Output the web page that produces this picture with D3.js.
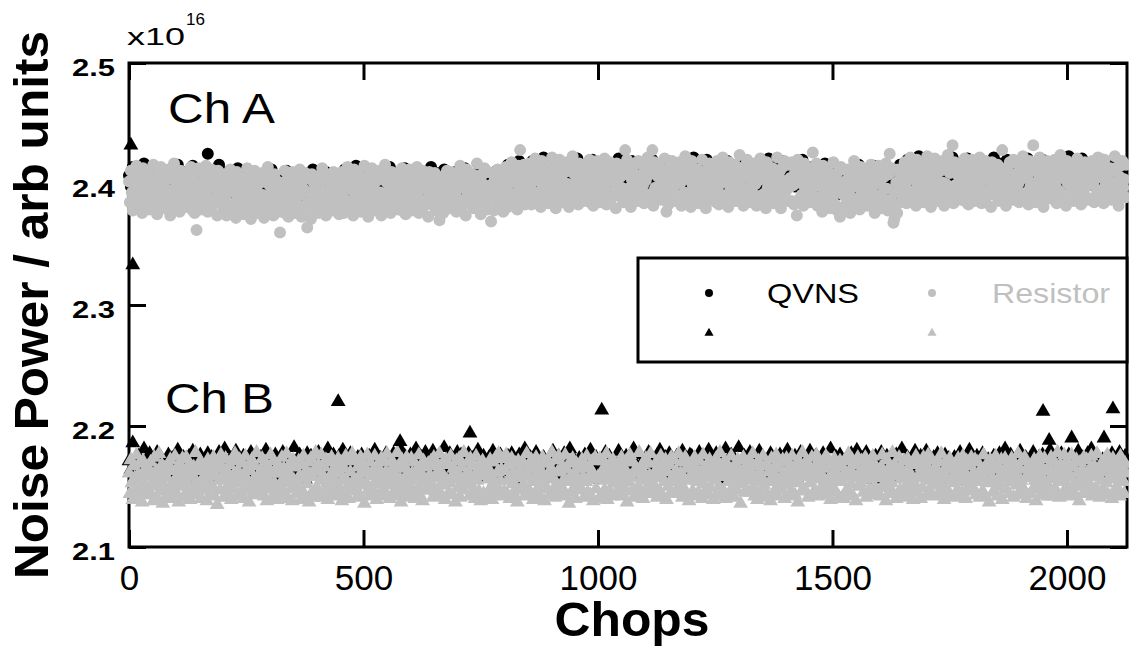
<!DOCTYPE html>
<html>
<head>
<meta charset="utf-8">
<script src="https://cdn.jsdelivr.net/npm/d3@7"></script>
<style>
  body { margin: 0; background: #fff; }
  svg { display: block; font-family: "Liberation Sans", Arial, sans-serif; }
</style>
</head>
<body>
<svg id="chart" width="1129" height="650"></svg>
<script>
// noise power readings, in units of 1e13 (axis shows x10^16, so 2400 -> 2.400)
// resistor series sampled every 2 chops, QVNS series every 4 chops
const resistorStep = 2
const qvnsStep = 4

const chAResistor = [
  2402,2385,2411,2393,2378,2407,2398,2389,2415,2381,2400,2409,2387,2396,2376,2413,2392,2405,2383,2399,
  2390,2408,2379,2403,2397,2386,2416,2394,2382,2406,2375,2401,2410,2384,2414,2391,2398,2380,2409,2388,
  2404,2382,2412,2395,2374,2405,2393,2387,2417,2379,2402,2410,2386,2399,2377,2411,2392,2406,2383,2401,
  2388,2409,2381,2404,2395,2385,2414,2391,2378,2407,2376,2400,2362,2386,2413,2390,2397,2379,2410,2389,
  2403,2381,2415,2394,2377,2406,2399,2386,2412,2382,2401,2408,2388,2396,2374,2411,2393,2404,2384,2400,
  2399,2380,2408,2389,2374,2404,2395,2384,2412,2377,2397,2406,2383,2393,2372,2410,2388,2402,2380,2396,
  2386,2405,2375,2400,2394,2382,2413,2390,2378,2403,2371,2398,2407,2381,2411,2387,2395,2376,2406,2384,
  2401,2378,2409,2391,2372,2402,2390,2383,2414,2376,2399,2407,2382,2396,2374,2408,2389,2403,2379,2397,
  2385,2360,2377,2401,2392,2381,2411,2388,2375,2404,2373,2397,2405,2382,2410,2386,2394,2376,2407,2383,
  2400,2378,2412,2391,2373,2403,2396,2382,2409,2379,2364,2405,2385,2393,2371,2408,2387,2401,2380,2398,
  2389,2406,2376,2399,2393,2383,2413,2387,2380,2404,2374,2394,2403,2384,2408,2390,2397,2378,2410,2385,
  2398,2381,2406,2390,2375,
  2401,2382,2410,2391,2376,2406,2397,2386,2414,2379,2399,2408,2385,2395,2374,2412,2390,2404,2382,2398,
  2388,2407,2377,2402,2396,2384,2415,2392,2380,2405,2373,2400,2409,2383,2413,2389,2397,2378,2408,2386,
  2403,2380,2411,2393,2374,2404,2392,2385,2416,2378,2401,2409,2384,2398,2376,2410,2391,2405,2381,2399,
  2387,2407,2379,2403,2394,2383,2413,2390,2377,2406,2375,2399,2408,2384,2412,2388,2396,2378,2409,2385,
  2402,2379,2414,2393,2376,2405,2398,2385,2411,2381,2400,2407,2387,2395,2373,2410,2392,2403,2383,2399,
  2390,2409,2378,2401,2396,2385,2370,2389,2381,2406,2376,2397,2404,2386,2411,2393,2398,2380,2410,2388,
  2400,2383,2408,2392,2377,2403,2397,2387,2415,2380,2402,2410,2386,2396,2374,2412,2391,2405,2384,2400,
  2389,2408,2380,2403,2397,2386,2417,2394,2382,2407,2375,2401,2408,2384,2413,2391,2398,2379,2410,2387,
  2399,2369,2409,2393,2378,2404,2398,2388,2412,2383,2401,2407,2389,2396,2377,
  2406,2387,2414,2397,2381,2410,2402,2392,2418,2385,2405,2412,2390,2401,2379,2415,2396,2428,2388,2407,
  2399,2416,2383,2404,2394,
  2408,2389,2417,2398,2383,2413,2404,2393,2421,2386,2406,2415,2392,2402,2381,2419,2397,2411,2388,2405,
  2395,2414,2384,2409,2403,2391,2422,2399,2387,2412,2380,2407,2416,2390,2420,2396,2404,2385,2415,2393,
  2410,2387,2418,2400,2381,2411,2399,2392,2423,2385,2408,2416,2391,2405,2383,2417,2398,2412,2388,2406,
  2394,2414,2386,2410,2401,2390,2420,2397,2384,2413,2382,2406,2415,2391,2419,2395,2403,2385,2416,2392,
  2409,2386,2421,2400,2383,2412,2405,2392,2418,2388,2407,2414,2394,2402,2380,2417,2399,2410,2390,2406,
  2397,2415,2385,2408,2428,2392,2420,2396,2387,2411,2381,2404,2413,2393,2417,2398,2405,2386,2419,2394,
  2407,2390,2416,2399,2384,2411,2403,2391,2422,2387,2408,2415,2392,2428,2382,2418,2397,2410,2389,2406,
  2396,2413,2387,2409,2402,2392,2421,2398,2377,2412,2383,2405,2414,2390,2419,2395,2404,2386,2416,2400,
  2410,2388,2418,2401,2382,2413,2404,2393,2423,2386,2409,2416,2391,2403,2381,2419,2399,2411,2389,2407,
  2393,2412,2384,2407,2400,2390,2420,2396,2386,2410,2380,2404,2413,2392,2417,2397,2402,2387,2415,2394,
  2408,2385,2419,2398,2383,2410,2401,2391,2422,2385,2406,2414,2389,2401,2381,2418,2395,2409,2388,2403,
  2397,2416,2386,2411,2404,2391,2424,2399,2389,2413,2382,2407,2415,2393,2420,2396,2405,2385,2417,2395,
  2409,2387,2417,2400,2382,2412,2403,2390,2421,2385,2408,2415,2392,2404,2380,2418,2397,2411,2389,2406,
  2394,2413,2384,2408,2401,2389,2422,2398,2386,2411,2380,2403,2414,2390,2419,2394,2402,2386,2416,2397,
  2405,2386,2418,2399,2383,2409,2402,2374,2420,2387,2407,2414,2391,2400,2382,2417,2396,2410,2390,2404,
  2404,2385,2413,2394,2426,2408,2399,2389,2417,2382,2402,2411,2388,2398,2377,2415,2393,2406,2384,2400,
  2391,2410,2380,2405,2399,2387,2418,2395,2383,2408,2378,2402,2411,2373,2414,2392,2398,2381,2412,2389,
  2403,2383,2412,2396,2376,2407,2397,2388,2419,2381,2404,2413,2386,2400,2379,2414,2393,2408,2384,2402,
  2389,2410,2382,2405,2398,2386,2416,2394,2384,2407,2376,2401,2410,2385,2415,2391,2400,2380,2412,2388,
  2406,2383,2417,2396,2378,2408,2425,2387,2413,2384,2368,2371,2393,2401,2376,2412,2396,2407,2385,2403,
  2409,2390,2418,2399,2384,2414,2405,2394,2422,2387,2407,2416,2393,2403,2382,2420,2398,2412,2389,2406,
  2396,2415,2385,2410,2404,2392,2423,2400,2388,2413,2381,2408,2417,2391,2421,2397,2405,2386,2416,2394,
  2411,2388,2419,2401,2382,2412,2400,2393,2424,2386,2409,2417,2392,2432,2384,2418,2399,2413,2389,2407,
  2395,2415,2387,2411,2402,2391,2421,2398,2385,2414,2383,2407,2416,2392,2420,2396,2404,2386,2417,2393,
  2410,2387,2422,2401,2384,2413,2406,2393,2419,2389,2408,2415,2395,2403,2381,2418,2400,2411,2391,2407,
  2398,2416,2386,2409,2403,2393,2428,2397,2388,2412,2382,2405,2414,2394,2418,2399,2406,2387,2420,2395,
  2408,2391,2417,2400,2385,2412,2404,2392,2423,2388,2409,2416,2393,2405,2383,2419,2398,2412,2390,2432,
  2397,2414,2385,2410,2402,2391,2422,2399,2387,2413,2381,2406,2415,2393,2419,2396,2404,2388,2416,2401,
  2410,2389,2420,2398,2384,2413,2405,2394,2424,2387,2408,2417,2391,2404,2382,2419,2400,2411,2392,2406,
  2395,2415,2386,2411,2403,2390,2421,2397,2389,2412,2383,2407,2414,2393,2418,2398,2403,2387,2417,2400,
  2409,2388,2419,2401,2385,2411,2406,2395,2422,2389,2407,2416,2392,2405,2384,2420,2399,2410,2391,2408,
  2396,2413,2387,2412,2401,2392,2423,2398,2390,2414,2382,2406,2415,2394,2419,2397,2404,2389,2416
]

const chAQvns = [
  2407,2398,2414,2401,2393,2410,2405,2399,2417,2395,2408,2412,2400,2404,2391,2413,2402,2409,2396,2406,
  2401,2411,2394,2408,2404,2397,2416,2403,2392,2410,2390,2406,2409,2398,2415,2402,2405,2393,2412,2400,
  2403,2395,2425,2401,2391,2409,2404,2398,2416,2396,
  2403,2394,2410,2397,2389,2406,2401,2395,2413,2391,2404,2408,2396,2400,2387,2409,2398,2405,2392,2402,
  2397,2407,2390,2404,2400,2393,2412,2399,2388,2406,2386,2402,2405,2394,2411,2398,2401,2389,2408,2396,
  2399,2391,2409,2397,2387,2405,2400,2394,2412,2392,2403,2407,2395,2401,2388,2410,2398,2404,2393,2402,
  2396,2408,2391,
  2405,2396,2412,2399,2391,2408,2403,2397,2415,2393,2406,2410,2398,2402,2389,2411,2400,2407,2394,2404,
  2399,2409,2392,2406,2402,2395,2414,2401,2390,2408,2388,2404,2407,2396,2413,2400,2403,2391,2410,2398,
  2401,2393,2411,2399,2389,2407,2402,2396,2414,2394,2405,2409,2397,2403,2390,2412,2400,2406,2395,2404,
  2398,2410,2393,2405,2401,2394,2413,2399,2391,2407,2387,2403,2408,2395,2412,2399,2402,2390,2409,2397,
  2404,2392,2410,2400,2388,2406,2401,
  2411,2402,2416,2405,2397,2413,2409,2403,2419,2400,2412,2415,2406,
  2412,2403,2419,2406,2398,2415,2410,2404,2422,2400,2413,2417,2405,2409,2396,2418,2407,2414,2401,2411,
  2406,2416,2399,2413,2409,2402,2421,2408,2397,2415,2395,2411,2414,2403,2420,2407,2410,2398,2417,2405,
  2408,2400,2418,2406,2396,2414,2409,2403,2421,2401,2412,2416,2404,2410,2397,2419,2407,2413,2402,2411,
  2405,2417,2398,2412,2408,2401,2420,2406,2399,2414,2394,2410,2415,2402,2419,2406,2409,2397,2416,2404,
  2411,2399,2417,2407,2395,2413,2408,2402,2422,2398,2412,2418,2403,2409,2396,2420,2405,2414,2400,2410,
  2407,2415,2397,2411,2406,2400,2419,2405,2398,2413,2393,2409,2416,2401,2418,2405,2408,2396,2415,2403,
  2410,2398,2416,2406,2394,2412,2407,2401,2421,2397,2411,2417,2402,2408,2395,2419,2406,2413,2399,2409,
  2404,2416,2398,2412,2407,2401,2420,2405,2400,2414,
  2407,2398,2414,2401,2393,2410,2405,2399,2417,2395,2408,2412,2400,2404,2391,2413,2402,2409,2396,2406,
  2400,2411,2394,2408,2403,2397,2416,2402,2392,2410,2389,2406,2409,2397,2415,2401,2404,2393,2412,2399,
  2405,2395,2413,2402,2390,2409,2403,2398,2416,2396,
  2413,2404,2420,2407,2399,2416,2411,2405,2423,2401,2414,2418,2406,2410,2397,2419,2408,2415,2402,2412,
  2407,2417,2400,2414,2410,2403,2422,2409,2398,2416,2396,2412,2415,2404,2421,2408,2411,2399,2418,2406,
  2409,2401,2419,2407,2397,2415,2410,2404,2422,2402,2413,2417,2405,2411,2398,2420,2408,2414,2403,2412,
  2406,2418,2399,2413,2409,2402,2421,2407,2400,2415,2395,2411,2416,2403,2420,2407,2410,2398,2417,2405,
  2412,2400,2418,2408,2396,2414,2409,2403,2423,2399,2413,2419,2404,2410,2397,2421,2406,2415,2401,2411,
  2408,2416,2398,2412,2407,2401,2420,2406,2399,2414,2394,2410,2417,2402,2419,2406,2409,2397,2416
]

const chBResistor = [
  2161,2144,2172,2153,2139,2167,2157,2148,2176,2142,2160,2169,2149,2156,2137,2171,2152,2164,2145,2159,
  2166,2147,2143,2170,2154,2159,2138,2174,2150,2163,2141,2156,2177,2146,2153,2168,2136,2160,2165,2149,
  2142,2157,2167,2148,2172,2140,2163,2153,2146,2175,2156,2144,2165,2137,2169,2159,2150,2173,2141,2162,
  2155,2174,2145,2152,2168,2139,2160,2158,2143,2166,2149,2178,2154,2144,2163,2148,2171,2140,2156,2167,
  2147,2164,2158,2138,2172,2153,2143,2167,2160,2150,2174,2142,2159,2165,2135,2170,2155,2147,2176,2157,
  2165,2141,2156,2173,2149,2162,2144,2168,2152,2139,2171,2159,2148,2177,2155,2142,2163,2153,2172,2145,
  2158,2169,2140,2160,2175,2147,2155,2166,2137,2163,2151,2172,2144,2156,2167,2149,2178,2143,2159,2152,
  2145,2163,2173,2151,2142,2170,2158,2138,2166,2155,2148,2176,2161,2141,2171,2153,2147,2164,2139,2168,
  2161,2149,2143,2174,2156,2165,2145,2153,2177,2140,2162,2158,2169,2148,2138,2172,2155,2166,2151,2144,
  2154,2171,2159,2139,2168,2146,2175,2157,2142,2163,2152,2170,2137,2160,2173,2145,2158,2141,2164,2178,
  2149,2162,2168,2144,2155,2176,2141,2159,2166,2147,2172,2153,2139,2170,2158,2148,2174,2143,2163,2156,
  2167,2142,2152,2173,2147,2161,2170,2138,2156,2165,2144,2175,2155,2150,2140,2171,2162,2146,2177,2153,
  2156,2172,2148,2141,2166,2158,2143,2174,2151,2161,2168,2136,2163,2153,2176,2147,2142,2170,2159,2149,
  2144,2164,2175,2155,2139,2167,2152,2160,2145,2173,2158,2148,2170,2142,2162,2177,2151,2157,2140,2171,
  2163,2153,2142,2168,2159,2149,2178,2144,2165,2156,2137,2172,2152,2166,2146,2158,2174,2141,2161,2150,
  2155,2173,2161,2145,2170,2140,2158,2164,2149,2176,2143,2162,2155,2138,2171,2153,2166,2147,2156,2169,
  2147,2159,2171,2152,2141,2174,2157,2146,2167,2162,2144,2177,2151,2160,2142,2170,2158,2139,2172,2155,
  2168,2145,2153,2175,2158,2143,2165,2156,2137,2171,2161,2149,2173,2141,2157,2166,2147,2178,2152,2159,
  2152,2170,2162,2142,2173,2151,2145,2167,2158,2140,2175,2155,2163,2146,2169,2138,2159,2171,2144,2164,
  2159,2141,2166,2156,2147,2172,2161,2139,2170,2154,2144,2174,2151,2162,2177,2146,2155,2164,2142,2173,
  2146,2163,2176,2144,2155,2168,2140,2159,2173,2152,2161,2143,2169,2149,2137,2171,2157,2165,2147,2158,
  2170,2152,2142,2162,2177,2146,2158,2166,2145,2172,2154,2139,2164,2157,2174,2144,2168,2150,2161,2141,
  2154,2174,2159,2138,2169,2157,2148,2171,2161,2143,2165,2178,2147,2156,2141,2172,2152,2162,2175,2146,
  2162,2144,2167,2155,2146,2176,2142,2164,2154,2136,2170,2158,2145,2173,2160,2150,2140,2169,2157,2166,
  2151,2168,2147,2172,2158,2141,2165,2154,2175,2145,2157,2166,2143,2161,2171,2138,2159,2174,2148,2156,
  2158,2140,2173,2161,2143,2163,2171,2147,2155,2177,2139,2167,2157,2146,2165,2142,2172,2153,2162,2144,
  2166,2157,2145,2169,2152,2174,2142,2159,2165,2148,2171,2137,2160,2154,2176,2158,2146,2170,2141,2163,
  2143,2165,2161,2150,2178,2145,2157,2168,2140,2162,2155,2173,2149,2144,2169,2159,2177,2147,2158,2152,
  2161,2148,2170,2141,2158,2166,2146,2175,2157,2142,2164,2154,2172,2139,2162,2150,2168,2144,2174,2157,
  2154,2172,2144,2163,2147,2157,2177,2150,2161,2170,2141,2158,2148,2174,2143,2166,2155,2138,2165,2159,
  2168,2146,2158,2174,2142,2165,2154,2145,2171,2157,2162,2140,2176,2152,2159,2147,2167,2161,2143,2172,
  2149,2166,2157,2139,2170,2155,2173,2144,2163,2150,2178,2159,2142,2165,2146,2171,2140,2158,2168,2154,
  2160,2143,2175,2162,2150,2141,2168,2158,2147,2172,2155,2164,2136,2161,2152,2174,2145,2166,2157,2146,
  2165,2155,2145,2170,2161,2177,2149,2142,2167,2158,2139,2171,2154,2162,2144,2157,2175,2151,2141,2168,
  2144,2167,2162,2154,2138,2173,2157,2165,2146,2159,2176,2142,2166,2149,2170,2155,2147,2172,2161,2140,
  2157,2173,2151,2142,2166,2160,2145,2175,2154,2163,2143,2168,2158,2137,2171,2153,2164,2146,2178,2158,
  2163,2147,2171,2158,2141,2167,2153,2161,2174,2144,2156,2166,2146,2176,2157,2142,2162,2170,2149,2159,
  2146,2165,2155,2175,2150,2143,2172,2157,2139,2168,2162,2148,2173,2154,2145,2166,2158,2141,2171,2156,
  2167,2154,2140,2161,2171,2147,2158,2177,2145,2164,2152,2172,2142,2159,2168,2138,2157,2174,2150,2162,
  2153,2171,2163,2145,2157,2174,2141,2165,2156,2147,2170,2158,2144,2175,2161,2150,2167,2143,2163,2157,
  2158,2142,2166,2176,2149,2161,2154,2138,2172,2157,2165,2146,2162,2153,2178,2144,2168,2159,2140,2164,
  2162,2174,2147,2156,2164,2144,2171,2159,2150,2141,2173,2163,2154,2168,2146,2158,2139,2170,2152,2175,
  2145,2157,2168,2161,2140,2166,2149,2174,2158,2167,2143,2155,2176,2147,2163,2156,2172,2142,2161,2151,
  2166,2151,2143,2171,2159,2154,2177,2146,2162,2139,2170,2157,2148,2167,2144,2173,2153,2164,2158,2141,
  2155,2168,2161,2147,2173,2142,2158,2166,2145,2175,2154,2162,2140,2171,2157,2150,2167,2146,2174,2159,
  2149,2162,2172,2143,2154,2170,2161,2141,2164,2157,2146,2176,2158,2142,2168,2153,2163,2137,2172,2156,
  2170,2145,2155,2164,2175,2150,2142,2167,2158,2152,2172,2139,2162,2157,2173,2148,2159,2168,2144,2166,
  2154,2173,2163,2141,2161,2168,2151,2157,2177,2145,2164,2155,2171,2149,2143,2174,2157,2140,2166,2161,
  2161,2144,2167,2158,2148,2172,2155,2138,2170,2162,2150,2175,2143,2159,2165,2153,2173,2146,2163,2142,
  2151,2166,2157,2174,2142,2159,2171,2148,2164,2146,2178,2158,2141,2168,2155,2162,2145,2176,2154,2170,
  2163,2148,2142,2168,2158,2176,2146,2166,2153,2143,2172,2161,2150,2138,2170,2157,2164,2144,2174,2152,
  2157,2172,2161,2145,2164,2151,2175,2142,2159,2167,2148,2158,2177,2146,2162,2141,2168,2155,2147,2171,
  2146,2164,2153,2176,2143,2168,2158,2162,2140,2173,2156,2145,2166,2150,2171,2160,2142,2175,2157,2163,
  2154,2144,2169,2161
]

const chBQvns = [
  2171,2164,2186,2166,2158,2175,2170,2163,2181,2161,2172,2177,2165,2169,2157,2178,2167,2174,2162,2170,
  2166,2176,2160,2173,2168,2163,2180,2167,2159,2174,2156,2171,2175,2161,2179,2165,2169,2158,2176,2164,
  2170,2161,2177,2167,2174,2157,2169,2163,2178,2172,2160,2181,2164,2170,2173,2158,2166,2179,2162,2171,
  2164,2175,2158,2169,2166,2178,2161,2173,2170,2157,2174,2162,2167,2180,2163,2168,2172,2159,2176,2165,
  2172,2160,2178,2165,2157,2174,2169,2164,2182,2160,2171,2176,2163,2168,2156,2177,2166,2175,2161,2170,
  2167,2178,2161,2174,2170,2165,2181,2169,2163,2176,2158,2172,2175,2164,2180,2168,2171,2160,2177,2166,
  2169,2161,2174,2166,2176,2155,2168,2163,2175,2171,2160,2180,2164,2169,2173,2157,2165,2177,2162,2170,
  2166,2177,2160,2171,2168,2180,2164,2175,2172,2158,2176,2163,2169,2181,2165,2170,2174,2161,2178,2167,
  2172,2164,2179,2167,2159,2175,2171,2166,2182,2162,2173,2177,2165,2170,2157,2178,2168,2176,2163,2171,
  2166,2177,2160,2173,2169,2164,2180,2168,2162,2175,2157,2171,2174,2163,2179,2167,2170,2159,2176,2165,
  2170,2162,2175,2167,2177,2156,2169,2164,2176,2172,2161,2181,2165,2170,2174,2158,2166,2178,2163,2171,
  2165,2174,2159,2168,2172,2162,2179,2166,2160,2175,2158,2170,2177,2163,2169,2181,2161,2173,2167,2157,
  2173,2166,2158,2176,2164,2171,2180,2161,2168,2174,2163,2156,2172,2167,2178,2160,2175,2165,2170,2162,
  2168,2179,2163,2170,2157,2175,2166,2172,2161,2181,2169,2164,2176,2159,2171,2167,2160,2178,2165,2173,
  2161,2172,2169,2180,2165,2159,2174,2167,2177,2163,2170,2158,2175,2168,2162,2179,2166,2171,2157,2176,
  2175,2163,2171,2158,2178,2168,2162,2173,2166,2180,2160,2169,2164,2177,2170,2156,2174,2167,2181,2162,
  2167,2176,2160,2172,2169,2182,2164,2157,2175,2170,2163,2178,2166,2161,2173,2168,2179,2159,2171,2165,
  2170,2158,2177,2165,2173,2161,2168,2176,2162,2174,2167,2180,2160,2171,2164,2175,2157,2169,2178,2163,
  2164,2173,2166,2179,2159,2170,2175,2163,2169,2157,2177,2165,2172,2160,2181,2167,2162,2174,2168,2176,
  2172,2165,2158,2174,2168,2177,2161,2170,2180,2164,2159,2173,2166,2178,2163,2171,2169,2156,2175,2167,
  2166,2178,2171,2162,2175,2160,2169,2173,2157,2176,2168,2163,2181,2165,2170,2174,2159,2172,2164,2179,
  2169,2160,2175,2167,2163,2179,2158,2172,2166,2174,2161,2177,2170,2164,2156,2176,2168,2173,2162,2171,
  2174,2167,2162,2178,2170,2165,2173,2157,2180,2168,2171,2163,2175,2159,2169,2177,2166,2161,2172,2168,
  2163,2175,2170,2159,2177,2166,2164,2181,2169,2160,2176,2167,2158,2173,2165,2179,2171,2162,2174,2166,
  2171,2164,2178,2168,2158,2174,2167,2176,2161,2172,2165,2180,2163,2170,2175,2157,2169,2177,2162,2173,
  2168,2176,2160,2173,2171,2163,2179,2166,2174,2158,2170,2177,2164,2181,2167,2162,2175,2169,2159,2172,
  2165,2174,2169,2161,2177,2167,2172,2163,2178,2166,2170,2175
]

// isolated QVNS Ch B readings well above the band: [chop, value]
const chBQvnsSpikes = [
  [4, 2432], [8, 2333], [446, 2220], [578, 2187], [727, 2194], [1008, 2213],
  [1949, 2212], [1962, 2188], [2010, 2190], [2079, 2190], [2098, 2214]
]

const xTicks = [0, 500, 1000, 1500, 2000]
const yTicks = [2.1, 2.2, 2.3, 2.4, 2.5]
const channelLabels = ['Ch A', 'Ch B']
const legendLabels = ['QVNS', 'Resistor']

const black = '#000'
const grey = '#c0c0c0'

const svg = d3.select('#chart')

const plotLeft = 129
const plotRight = 1127
const plotTop = 63
const plotBottom = 547
const tickLen = 17

const x = d3.scaleLinear().domain([0, 2128]).range([plotLeft, plotRight])
const y = d3.scaleLinear().domain([2.1, 2.5]).range([plotBottom, plotTop])
const toY = v => y(v / 1000)

// frame + inward ticks on all four sides
svg.append('rect')
  .attr('x', plotLeft).attr('y', plotTop)
  .attr('width', plotRight - plotLeft).attr('height', plotBottom - plotTop)
  .attr('fill', 'none').attr('stroke', black).attr('stroke-width', 3)

const xAxis = svg.append('g')
  .attr('transform', `translate(0, ${plotBottom})`)
  .call(d3.axisBottom(x).tickValues(xTicks).tickSize(-tickLen).tickPadding(18).tickFormat(d3.format('d')))

const xTopAxis = svg.append('g')
  .attr('transform', `translate(0, ${plotTop})`)
  .call(d3.axisTop(x).tickValues(xTicks).tickSize(-tickLen).tickFormat(''))

const yAxis = svg.append('g')
  .attr('transform', `translate(${plotLeft}, 0)`)
  .call(d3.axisLeft(y).tickValues(yTicks).tickSize(-tickLen).tickPadding(14).tickFormat(d3.format('.1f')))

const yRightAxis = svg.append('g')
  .attr('transform', `translate(${plotRight}, 0)`)
  .call(d3.axisRight(y).tickValues(yTicks).tickSize(-tickLen).tickFormat(''))

for (const ax of [xAxis, xTopAxis, yAxis, yRightAxis]) {
  ax.select('.domain').remove()
  ax.selectAll('.tick line').attr('stroke', black).attr('stroke-width', 3)
}

xAxis.selectAll('.tick text')
  .attr('fill', black)
  .attr('font-size', 35)
  .attr('font-family', '"Liberation Sans", Arial, sans-serif')

yAxis.selectAll('.tick text')
  .attr('fill', black)
  .attr('font-size', 24)
  .attr('font-weight', 'bold')
  .attr('font-family', '"Liberation Sans", Arial, sans-serif')
  .attr('y', 5)
  .attr('textLength', 43)
  .attr('lengthAdjust', 'spacingAndGlyphs')

// data marks: QVNS (black) underneath, resistor (grey) on top
const circle = d3.symbol(d3.symbolCircle, 113)()
const triangle = d3.symbol(d3.symbolTriangle, 95)()

const plot = svg.append('g')

function drawSeries(values, step, shape, colour) {
  plot.append('g')
    .selectAll('path')
    .data(values)
    .join('path')
    .attr('d', shape)
    .attr('fill', colour)
    .attr('transform', (d, i) => `translate(${x(i * step)}, ${toY(d)})`)
}

drawSeries(chAQvns, qvnsStep, circle, black)
drawSeries(chBQvns, qvnsStep, triangle, black)
drawSeries(chAResistor, resistorStep, circle, grey)
drawSeries(chBResistor, resistorStep, triangle, grey)

plot.append('g')
  .selectAll('path')
  .data(chBQvnsSpikes)
  .join('path')
  .attr('d', triangle)
  .attr('fill', black)
  .attr('transform', d => `translate(${x(d[0])}, ${toY(d[1])})`)

// channel labels
svg.append('text')
  .attr('x', 168).attr('y', 123)
  .attr('font-size', 42)
  .attr('textLength', 107).attr('lengthAdjust', 'spacingAndGlyphs')
  .text(channelLabels[0])

svg.append('text')
  .attr('x', 165).attr('y', 413)
  .attr('font-size', 42)
  .attr('textLength', 109).attr('lengthAdjust', 'spacingAndGlyphs')
  .text(channelLabels[1])

// legend
const legend = svg.append('g')
legend.append('rect')
  .attr('x', 638).attr('y', 258)
  .attr('width', 489).attr('height', 104)
  .attr('fill', '#fff').attr('stroke', black).attr('stroke-width', 3)

const smallCircle = d3.symbol(d3.symbolCircle, 50)()
const smallTriangle = d3.symbol(d3.symbolTriangle, 36)()

legend.append('path').attr('d', smallCircle).attr('fill', black).attr('transform', 'translate(709, 293)')
legend.append('path').attr('d', smallTriangle).attr('fill', black).attr('transform', 'translate(709, 333)')
legend.append('path').attr('d', smallCircle).attr('fill', grey).attr('transform', 'translate(932, 293)')
legend.append('path').attr('d', smallTriangle).attr('fill', grey).attr('transform', 'translate(932, 333)')

legend.append('text')
  .attr('x', 767).attr('y', 303)
  .attr('font-size', 28).attr('fill', black)
  .attr('textLength', 92).attr('lengthAdjust', 'spacingAndGlyphs')
  .text(legendLabels[0])

legend.append('text')
  .attr('x', 992).attr('y', 303)
  .attr('font-size', 28).attr('fill', grey)
  .attr('textLength', 118).attr('lengthAdjust', 'spacingAndGlyphs')
  .text(legendLabels[1])

// exponent above the y axis
const expo = svg.append('text')
  .attr('x', 127).attr('y', 45)
  .attr('font-size', 24)
expo.append('tspan').text('x10')
  .attr('textLength', 58).attr('lengthAdjust', 'spacingAndGlyphs')
expo.append('tspan').text('16')
  .attr('x', 186).attr('y', 25)
  .attr('font-size', 17)

// axis titles
svg.append('text')
  .attr('transform', 'translate(48, 305) rotate(-90)')
  .attr('text-anchor', 'middle')
  .attr('font-size', 49)
  .attr('font-weight', 'bold')
  .attr('textLength', 548).attr('lengthAdjust', 'spacingAndGlyphs')
  .text('Noise Power / arb units')

svg.append('text')
  .attr('x', 632).attr('y', 636)
  .attr('text-anchor', 'middle')
  .attr('font-size', 48)
  .attr('font-weight', 'bold')
  .attr('textLength', 155).attr('lengthAdjust', 'spacingAndGlyphs')
  .text('Chops')
</script>
</body>
</html>
